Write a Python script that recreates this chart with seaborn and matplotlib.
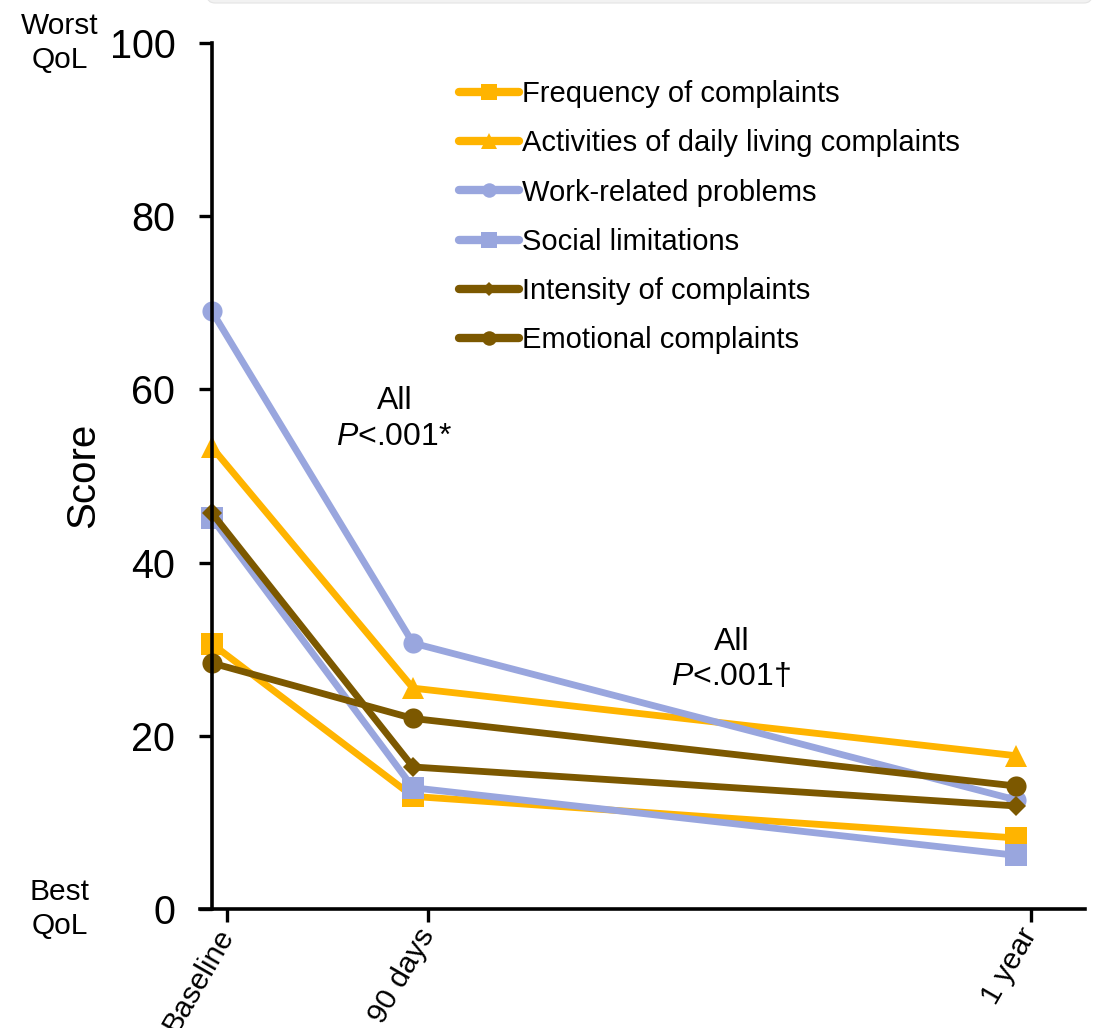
import matplotlib
matplotlib.use("Agg")
import matplotlib.pyplot as plt
import matplotlib.transforms as mtransforms
from matplotlib.patches import FancyBboxPatch
import seaborn as sns
import pandas as pd

# Time points (months after baseline) and their axis labels
months = [0, 3, 12]
time_labels = ["Baseline", "90 days", "1 year"]

# Mean scores per domain (higher = worse quality of life)
frequency = [30.6, 13.0, 8.2]
activities = [53.3, 25.5, 17.7]
work = [69.0, 30.7, 12.6]
social = [45.1, 14.0, 6.2]
intensity = [45.7, 16.4, 11.9]
emotional = [28.4, 22.0, 14.2]

series_names = [
    "Frequency of complaints",
    "Activities of daily living complaints",
    "Work-related problems",
    "Social limitations",
    "Intensity of complaints",
    "Emotional complaints",
]
series_values = [frequency, activities, work, social, intensity, emotional]

ORANGE = "#FFB400"
LAVENDER = "#99A6DE"
BROWN = "#7C5800"
series_colors = [ORANGE, ORANGE, LAVENDER, LAVENDER, BROWN, BROWN]
series_markers = ["s", "^", "o", "s", "D", "o"]
marker_sizes = [15.5, 16, 14.5, 15.5, 10.5, 14.5]

df = pd.DataFrame(
    [
        {"measure": name, "month": m, "score": v}
        for name, vals in zip(series_names, series_values)
        for m, v in zip(months, vals)
    ]
)

sns.set_theme(style="white")
plt.rcParams["font.family"] = ["Liberation Sans", "DejaVu Sans"]
plt.rcParams["mathtext.fontset"] = "custom"
plt.rcParams["mathtext.rm"] = "Liberation Sans"
plt.rcParams["mathtext.it"] = "Liberation Sans:italic"
for key in ("text.color", "axes.labelcolor", "xtick.color", "ytick.color"):
    plt.rcParams[key] = "black"

W, H = 1096, 1028
fig = plt.figure(figsize=(W / 100, H / 100), dpi=100)
ax = fig.add_axes([200 / W, 1 - 909 / H, 885 / W, 866 / H])

for name, color, mk, ms in zip(series_names, series_colors, series_markers, marker_sizes):
    sub = df[df["measure"] == name]
    sns.lineplot(
        data=sub, x="month", y="score", ax=ax, color=color, marker=mk,
        markersize=ms, markeredgewidth=0, linewidth=4.9, label=name,
        solid_joinstyle="round",
    )

ax.set_xlim(-0.18, 13.03)
ax.set_ylim(0, 100)
ax.spines["left"].set_position(("data", 0))
for side in ("top", "right"):
    ax.spines[side].set_visible(False)
for side in ("left", "bottom"):
    ax.spines[side].set_linewidth(2.6)
    ax.spines[side].set_color("black")

ax.set_yticks([0, 20, 40, 60, 80, 100])
ax.tick_params(axis="y", direction="out", length=9.5, width=2.4, color="black",
               labelcolor="black", labelsize=28.5, pad=17, left=True)
ax.set_xticks([m + 0.22 for m in months])
ax.set_xticklabels(time_labels)
ax.tick_params(axis="x", direction="out", length=9.5, width=2.4, color="black",
               labelcolor="black", labelsize=21.5, pad=6, bottom=True)
for lbl in ax.get_xticklabels():
    lbl.set_rotation(60)
    lbl.set_rotation_mode("anchor")
    lbl.set_ha("right")
    lbl.set_va("center")

ax.set_xlabel("")
ax.set_ylabel("")
fig.text(83 / W, 1 - 475 / H, "Score", rotation=90, fontsize=29,
         ha="center", va="center", color="black")

# Quality-of-life anchors beside the y-axis extremes
blend = mtransforms.blended_transform_factory(fig.transFigure, ax.transData)
ax.text(60 / W, 100, "Worst\nQoL", transform=blend, fontsize=21.5,
        ha="center", va="center", linespacing=1.25, clip_on=False)
ax.text(60 / W, 0, "Best\nQoL", transform=blend, fontsize=21.5,
        ha="center", va="center", linespacing=1.25, clip_on=False)

# Significance notes for each interval
ax.text(2.72, 56.6, "All\n$\\mathit{P}$<.001*", fontsize=23,
        ha="center", va="center", linespacing=1.25)
ax.text(7.75, 28.8, "All\n$\\mathit{P}$<.001\u2020", fontsize=23,
        ha="center", va="center", linespacing=1.25)

handles, labels = ax.get_legend_handles_labels()
leg = ax.legend(
    handles, labels, loc="upper left", bbox_to_anchor=(459 / W, 1 - 80 / H),
    bbox_transform=fig.transFigure, frameon=False, fontsize=21,
    handlelength=2.07, handletextpad=0.1, labelspacing=0.73,
    borderpad=0, borderaxespad=0, numpoints=1,
)
for txt in leg.get_texts():
    txt.set_color("black")
for h, ms in zip(leg.legend_handles, marker_sizes):
    h.set_markersize(ms * 0.72)
    h.set_linewidth(6)
    h.set_solid_capstyle("round")

# Light rounded panel edge along the top of the canvas
panel = FancyBboxPatch((207, H - 3), 885, 30,
                       boxstyle="round,pad=0,rounding_size=8",
                       transform=mtransforms.IdentityTransform(),
                       facecolor="#f2f2f2", edgecolor="#e4e4e4", linewidth=0.8)
fig.patches.append(panel)

fig.savefig("out.png", dpi=100)
